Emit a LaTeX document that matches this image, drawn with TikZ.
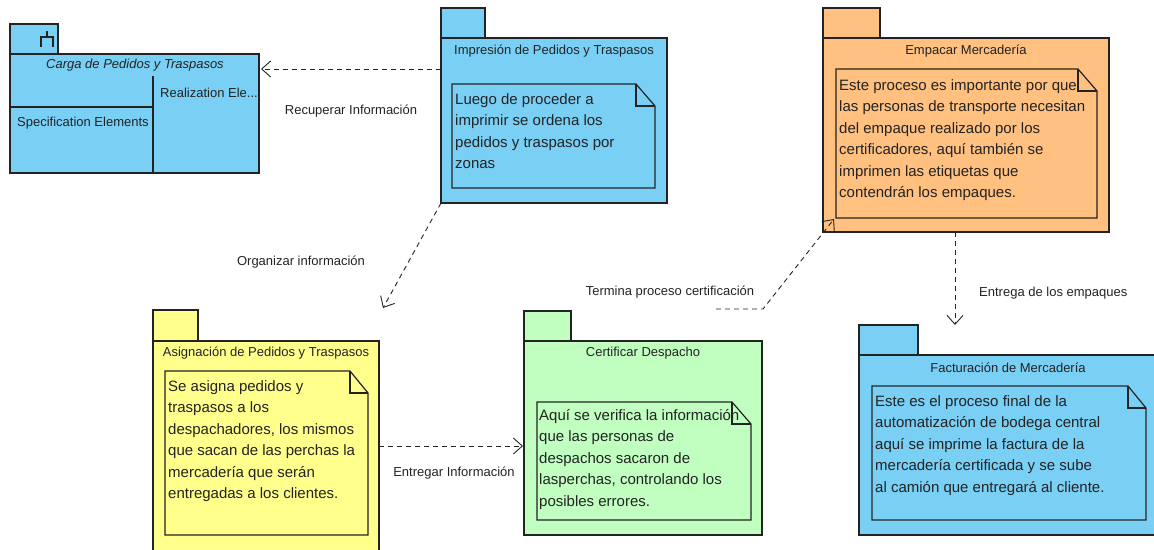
\documentclass[tikz,border=0pt]{standalone}
\usepackage{fontspec}
\setmainfont{Liberation Sans}
\usetikzlibrary{calc,arrows.meta}

\definecolor{pkgblue}{RGB}{122,207,245}
\definecolor{pkgorange}{RGB}{255,192,128}
\definecolor{pkgyellow}{RGB}{255,255,140}
\definecolor{pkggreen}{RGB}{192,255,192}
\definecolor{edge}{RGB}{35,35,35}
\definecolor{ink}{RGB}{35,35,35}

% outline of a UML note with a folded corner, drawn around node #1
\newcommand\notefold[3]{%
  \draw[edge, line width=1.2pt, fill=#2]
    (#1.north west) -- ($(#1.north east)+(-#3,0)$) -- ($(#1.north east)+(0,22)$)
    -- (#1.south east) -- (#1.south west) -- cycle;
  \draw[edge, line width=1.2pt]
    ($(#1.north east)+(-#3,0)$) -- ($(#1.north east)+(-#3,22)$) -- ($(#1.north east)+(0,22)$);
}

\begin{document}
\begin{tikzpicture}[x=1pt, y=-1pt,
  box/.style={draw=edge, line width=1.2pt, inner sep=0pt, outer sep=0pt, anchor=north west},
  holder/.style={inner sep=0pt, outer sep=0pt, anchor=north west},
  pkgtitle/.style={font=\fontsize{13}{15}\selectfont, text=ink, inner sep=0pt},
  notetext/.style={font=\fontsize{15}{21.5}\selectfont, align=left, text=ink, inner sep=0pt, anchor=north west},
  lbl/.style={font=\fontsize{13}{15}\selectfont, text=ink, inner sep=0pt},
  flow/.style={draw=edge, line width=0.9pt, dash pattern=on 5pt off 4pt,
    -{Straight Barb[length=9pt, width=16pt, line width=0.9pt]}}
]
\useasboundingbox (0,0) rectangle (1154,549);

% ---------- Carga de Pedidos y Traspasos ----------
\node[box, fill=pkgblue, minimum width=48, minimum height=30] (carTab) at (10,24) {};
\node[box, fill=pkgblue, minimum width=249, minimum height=119] (car) at (10,54) {};
\draw[edge, line width=1.2pt] (41,47) -- (41,37) -- (53,37) -- (53,47) (47,37) -- (47,31);
\node[pkgtitle, font=\fontsize{13}{15}\selectfont\itshape] (carT) at (135,65) {Carga de Pedidos y Traspasos};
\draw[edge, line width=1.2pt] ($(car.south west)+(143,0)$) -- ($(car.north west)+(143,22)$);
\draw[edge, line width=1.2pt] ($(car.north west)+(0,53)$) -- ($(car.north west)+(143,53)$);
\node[lbl, anchor=west] (carR) at (160,93) {Realization Ele...};
\node[lbl, anchor=west] (carS) at (17,123) {Specification Elements};

% ---------- Impresión de Pedidos y Traspasos ----------
\node[box, fill=pkgblue, minimum width=44, minimum height=30] (impTab) at (441,8) {};
\node[box, fill=pkgblue, minimum width=226, minimum height=165] (imp) at (441,38) {};
\node[pkgtitle] (impT) at ($(imp.north)+(0,13)$) {Impresión de Pedidos y Traspasos};
\node[holder, minimum width=203, minimum height=104] (impN) at (452,84) {};
\notefold{impN}{pkgblue}{19}
\node[notetext] (impX) at (455,93) {Luego de proceder a\\imprimir se ordena los\\pedidos y traspasos por\\zonas};

% ---------- Empacar Mercadería ----------
\node[box, fill=pkgorange, minimum width=57, minimum height=30] (empTab) at (823,8) {};
\node[box, fill=pkgorange, minimum width=286, minimum height=194] (emp) at (823,38) {};
\node[pkgtitle] (empT) at ($(emp.north)+(0,13)$) {Empacar Mercadería};
\node[holder, minimum width=261, minimum height=149] (empN) at (836,69) {};
\notefold{empN}{pkgorange}{19}
\node[notetext] (empX) at (839,79) {Este proceso es importante por que\\las personas de transporte necesitan\\del empaque realizado por los\\certificadores, aquí también se\\imprimen las etiquetas que\\contendrán los empaques.};

% ---------- Asignación de Pedidos y Traspasos ----------
\node[box, fill=pkgyellow, minimum width=45, minimum height=31] (asiTab) at (153,310) {};
\node[box, fill=pkgyellow, minimum width=226, minimum height=220] (asi) at (153,341) {};
\node[pkgtitle] (asiT) at ($(asi.north)+(0,12)$) {Asignación de Pedidos y Traspasos};
\node[holder, minimum width=203, minimum height=164] (asiN) at (165,371) {};
\notefold{asiN}{pkgyellow}{18}
\node[notetext] (asiX) at (168,380) {Se asigna pedidos y\\traspasos a los\\despachadores, los mismos\\que sacan de las perchas la\\mercadería que serán\\entregadas a los clientes.};

% ---------- Certificar Despacho ----------
\node[box, fill=pkggreen, minimum width=47, minimum height=30] (cerTab) at (524,311) {};
\node[box, fill=pkggreen, minimum width=238, minimum height=194] (cer) at (524,341) {};
\node[pkgtitle] (cerT) at ($(cer.north)+(0,12)$) {Certificar Despacho};
\node[holder, minimum width=214, minimum height=118] (cerN) at (537,402) {};
\notefold{cerN}{pkggreen}{19}
\node[notetext] (cerX) at (539,409) {Aquí se verifica la información\\que las personas de\\despachos sacaron de\\lasperchas, controlando los\\posibles errores.};

% ---------- Facturación de Mercadería ----------
\node[box, fill=pkgblue, minimum width=59, minimum height=30] (facTab) at (859,325) {};
\node[box, fill=pkgblue, minimum width=298, minimum height=180] (fac) at (859,355) {};
\node[pkgtitle] (facT) at ($(fac.north)+(0,13)$) {Facturación de Mercadería};
\node[holder, minimum width=274, minimum height=134] (facN) at (872,386) {};
\notefold{facN}{pkgblue}{18}
\node[notetext] (facX) at (875,395) {Este es el proceso final de la\\automatización de bodega central\\aquí se imprime la factura de la\\mercadería certificada y se sube\\al camión que entregará al cliente.};

% ---------- dependencies ----------
\draw[flow] ($(imp.north west)+(0,31)$) -- ($(car.north east)+(2,15)$);
\node[lbl] (lRec) at (351,111) {Recuperar Información};

\draw[flow] (imp.south west) -- ($(asi.north east)+(4,-33)$);
\node[lbl] (lOrg) at (301,262) {Organizar información};

\draw[flow] ($(asi.north east)+(0,105)$) -- ($(cer.north west)+(-1,105)$);
\node[lbl] (lEnt) at (454,473) {Entregar Información};

\coordinate (terStart) at (716,309);
\draw[flow] (terStart) -- ($(cer.north east)+(1,-32)$) -- ($(emp.south west)+(11,-13)$);
\node[lbl] (lTer) at (670,292) {Termina proceso certificación};

\draw[flow] ($(emp.south west)+(132,0)$) -- ($(fac.north west)+(96,-30)$);
\node[lbl, anchor=west] (lEmp) at (979,293) {Entrega de los empaques};

\end{tikzpicture}
\end{document}
